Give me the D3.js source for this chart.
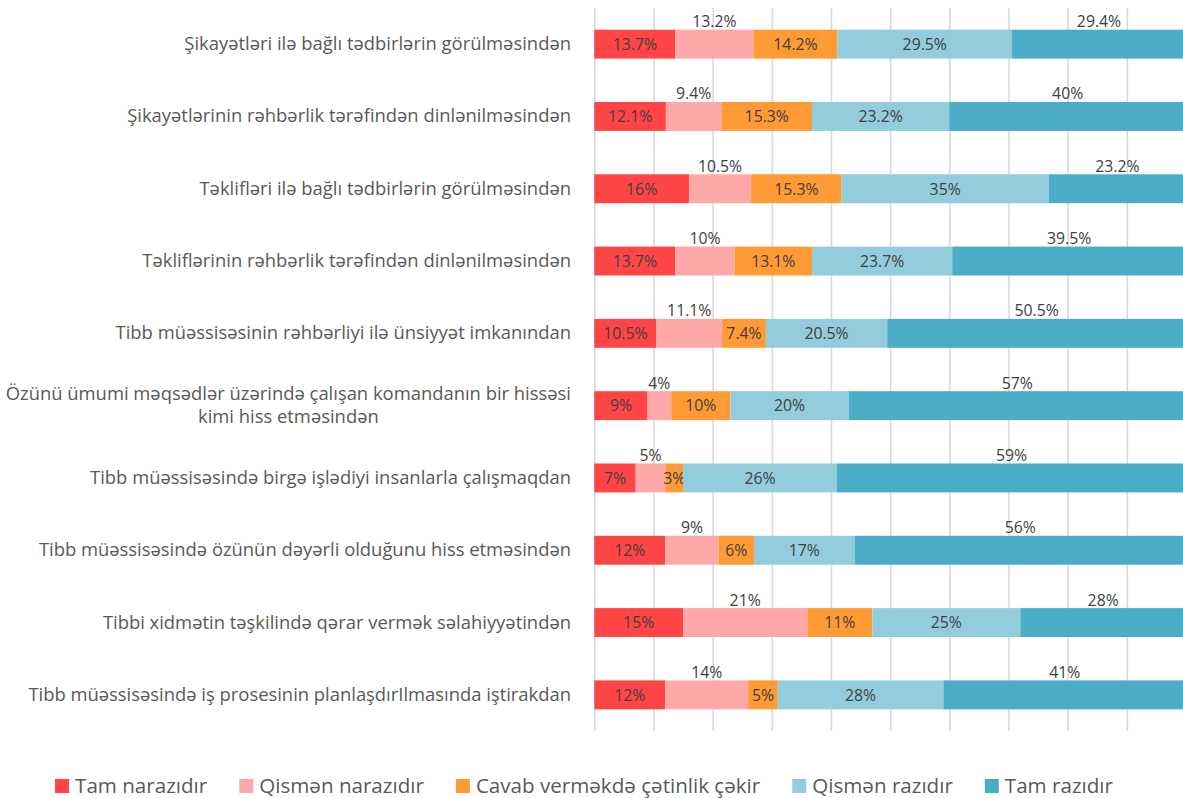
<!DOCTYPE html>
<html>
<head>
<meta charset="utf-8">
<script src="https://cdn.jsdelivr.net/npm/d3@7"></script>
<style>
  html, body { margin: 0; padding: 0; background: #fff; }
  svg { display: block; font-family: "Open Sans", sans-serif; }
</style>
</head>
<body>
<svg id="chart" width="1183" height="798"></svg>
<script>
const categories = [
  ["Şikayətləri ilə bağlı tədbirlərin görülməsindən"],
  ["Şikayətlərinin rəhbərlik tərəfindən dinlənilməsindən"],
  ["Təklifləri ilə bağlı tədbirlərin görülməsindən"],
  ["Təkliflərinin rəhbərlik tərəfindən dinlənilməsindən"],
  ["Tibb müəssisəsinin rəhbərliyi ilə ünsiyyət imkanından"],
  ["Özünü ümumi məqsədlər üzərində çalışan komandanın bir hissəsi", "kimi hiss etməsindən"],
  ["Tibb müəssisəsində birgə işlədiyi insanlarla çalışmaqdan"],
  ["Tibb müəssisəsində özünün dəyərli olduğunu hiss etməsindən"],
  ["Tibbi xidmətin təşkilində qərar vermək səlahiyyətindən"],
  ["Tibb müəssisəsində iş prosesinin planlaşdırIlmasında iştirakdan"]
];
const seriesNames = ["Tam narazıdır", "Qismən narazıdır", "Cavab verməkdə çətinlik çəkir", "Qismən razıdır", "Tam razıdır"];
const tamNarazi     = [13.7, 12.1, 16,   13.7, 10.5, 9,  7,  12, 15, 12];
const qismenNarazi  = [13.2, 9.4,  10.5, 10,   11.1, 4,  5,  9,  21, 14];
const cavabVermekde = [14.2, 15.3, 15.3, 13.1, 7.4,  10, 3,  6,  11, 5];
const qismenRazi    = [29.5, 23.2, 35,   23.7, 20.5, 20, 26, 17, 25, 28];
const tamRazi       = [29.4, 40,   23.2, 39.5, 50.5, 57, 59, 56, 28, 41];
const xTicks = [0, 10, 20, 30, 40, 50, 60, 70, 80, 90, 100];

const colors = ["#FF4545", "#FFA8A9", "#FF9A35", "#93CDDD", "#4BACC6"];
const labelAbove = [false, true, false, false, true];

const allSeries = [tamNarazi, qismenNarazi, cavabVermekde, qismenRazi, tamRazi];
const svg = d3.select("#chart");

const catKeys = categories.map(c => c.join(" "));
const x = d3.scaleLinear().domain([0, 100]).range([594.3, 1186]);
const y = d3.scaleBand().domain(catKeys).range([8, 731]).paddingInner(0.6).paddingOuter(0.3);

// gridlines
svg.append("g")
  .attr("transform", `translate(0,731)`)
  .call(d3.axisBottom(x).tickValues(xTicks).tickSize(-723).tickFormat(""))
  .call(g => g.select(".domain").remove())
  .call(g => g.selectAll(".tick line").attr("stroke", "#d9d9d9").attr("stroke-width", 1.6));

// stack
const rows = catKeys.map((k, i) => {
  const o = { key: k };
  seriesNames.forEach((s, j) => o[s] = allSeries[j][i]);
  return o;
});
const stacked = d3.stack().keys(seriesNames)(rows);

const bw = y.bandwidth();
stacked.forEach((layer, j) => {
  const g = svg.append("g");
  g.selectAll("rect").data(layer).join("rect")
    .attr("x", d => x(d[0]))
    .attr("y", d => y(d.data.key))
    .attr("width", d => x(d[1]) - x(d[0]))
    .attr("height", bw)
    .attr("fill", colors[j]);
  g.selectAll("text").data(layer).join("text")
    .attr("x", d => (x(d[0]) + x(d[1])) / 2)
    .attr("y", d => labelAbove[j] ? y(d.data.key) - 2.5 : y(d.data.key) + bw / 2 + 5.8)
    .attr("text-anchor", "middle")
    .attr("font-size", 15.8)
    .attr("fill", "#404040")
    .text(d => `${d.data[layer.key]}%`);
});

// category labels
const catG = svg.append("g");
categories.forEach((lines, i) => {
  const cy = y(catKeys[i]) + bw / 2;
  const t = catG.append("text")
    .attr("font-size", 18.4)
    .attr("fill", "#595959");
  if (lines.length === 1) {
    t.attr("x", 571).attr("y", cy + 6).attr("text-anchor", "end").text(lines[0]);
  } else {
    const tspans = lines.map((l, k) => t.append("tspan").attr("y", cy + 6 + (k - (lines.length - 1) / 2) * 23.5).text(l));
    const widths = tspans.map(ts => ts.node().getComputedTextLength());
    const maxW = Math.max(...widths);
    const center = 571 - maxW / 2;
    tspans.forEach(ts => ts.attr("x", center).attr("text-anchor", "middle"));
  }
});

// legend
const lg = svg.append("g");
const items = seriesNames.map((name, j) => {
  const g = lg.append("g");
  g.append("rect").attr("width", 14).attr("height", 14).attr("y", 779).attr("fill", colors[j]);
  const t = g.append("text").attr("x", 20).attr("y", 792.5).attr("font-size", 20.6).attr("fill", "#595959").text(name);
  return { g, w: 20 + t.node().getComputedTextLength() };
});
const gap = 32;
const total = d3.sum(items, d => d.w) + gap * (items.length - 1);
let cx = 584 - total / 2;
items.forEach(it => { it.g.attr("transform", `translate(${cx},0)`); cx += it.w + gap; });
</script>
</body>
</html>
